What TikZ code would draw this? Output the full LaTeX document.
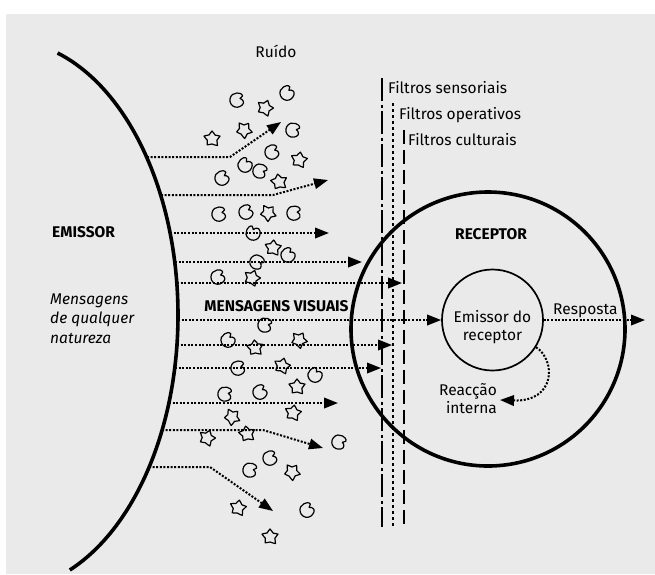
\documentclass[tikz,border=0pt]{standalone}
\usepackage{fontspec}
\setmainfont{Fira Sans}
\usetikzlibrary{arrows.meta}
\definecolor{bgc}{RGB}{234,234,234}
\begin{document}
\begin{tikzpicture}[x=1pt,y=-1pt,
  txt/.style={font=\fontsize{15.5pt}{19.5pt}\selectfont, inner sep=0pt},
  bold/.style={txt, font=\fontsize{15.5pt}{19.5pt}\selectfont\bfseries},
  ital/.style={txt, font=\fontsize{15.5pt}{19.5pt}\selectfont\itshape},
  msg/.style={line width=2pt, dash pattern=on 2pt off 1.6pt, -{Triangle[length=14pt,width=10.5pt]}},
  thickarc/.style={line width=3.6pt},
  noise/.style={line width=1.2pt, line join=round},
  cb/.pic={\draw[noise] plot[smooth cycle, tension=0.7] coordinates {(3pt,1.5pt) (5.5pt,4pt) (3.5pt,6.5pt) (0pt,7pt) (-4.5pt,5.5pt) (-7pt,1pt) (-6pt,-4pt) (-2pt,-7pt) (3pt,-6.5pt) (6.5pt,-3pt) (5pt,0.5pt)};},
  sb/.pic={\draw[noise] plot[smooth cycle, tension=0.6] coordinates {(0:8.5pt) (30:5pt) (70:8pt) (105:5pt) (140:8.5pt) (175:4.8pt) (210:7.5pt) (250:5pt) (290:8.5pt) (325:5pt)};}
]
\useasboundingbox (0,0) rectangle (655,574);
\fill[bgc] (6,14) rectangle (655,574);

% filters
\coordinate (f1a) at (382,78);  \coordinate (f1b) at (382,527);
\coordinate (f2a) at (393,103); \coordinate (f2b) at (393,527);
\coordinate (f3a) at (404,130); \coordinate (f3b) at (404,527);
\draw[line width=2.5pt, dash pattern=on 23pt off 3.5pt on 3pt off 3.5pt] (f1a) -- (f1b);
\draw[line width=2.7pt, dash pattern=on 2.7pt off 3.3pt] (f2a) -- (f2b);
\draw[line width=2.5pt, dash pattern=on 14pt off 6pt] (f3a) -- (f3b);

% emitter arc
\draw[thickarc] plot[domain=-72.3:68, samples=150, smooth] ({5+173*cos(\x)},{315+275*sin(\x)});

% receptor
\node[draw, circle, line width=3.6pt, inner sep=0pt, minimum size=274pt] (rec) at (488,329) {};
\node[draw, circle, line width=1.7pt, inner sep=0pt, minimum size=101pt] (emi) at (492.5,320) {};

% noise
\foreach \px/\py/\r in {237/100/0, 287/93/30, 293/130/-20, 272/152/10, 245/165/40, 260/171/-30,
  222/178/20, 219/214/0, 246/212/15, 294/213/-10, 253/233/60, 288/255/30, 257/262/-40, 218/277/10,
  265/325/-20, 228/340/30, 238/368/0, 315/375/40, 225/394/-15, 260/392/20, 339/442/-30, 270/458/10,
  250/470/-20, 307/510/25}
  \pic[rotate=\r] at (\px,\py) {cb};
\foreach \px/\py/\r in {265/108/0, 212/139/20, 244/130/-15, 299/160/10, 279/182/30, 268/213/-20,
  273/248/15, 252/278/0, 255/348/25, 299/340/-10, 282/366/5, 297/387/20, 232/417/-25, 293/413/10,
  207/438/0, 247/434/30, 292/472/-15, 238/508/10, 270/537/20}
  \pic[rotate=\r] at (\px,\py) {sb};

% messages
\coordinate (s1) at (147,157); \coordinate (b1) at (230,157); \coordinate (t1) at (281,122);
\coordinate (s2) at (161,195); \coordinate (b2) at (273,195); \coordinate (t2) at (328,180);
\coordinate (s3) at (170,233); \coordinate (t3) at (329,233);
\coordinate (s4) at (175,262); \coordinate (t4) at (362,262);
\coordinate (s5) at (177,283); \coordinate (t5) at (402,283);
\coordinate (s6) at (178,320);
\coordinate (s7) at (177,345); \coordinate (t7) at (392,345);
\coordinate (s8) at (175,368); \coordinate (t8) at (381,368);
\coordinate (s9) at (169,403); \coordinate (t9) at (338,403);
\coordinate (s10) at (162,430); \coordinate (b10) at (263,430); \coordinate (t10) at (323,448);
\coordinate (s11) at (149,467); \coordinate (b11) at (210,467); \coordinate (t11) at (273,511);
\draw[msg] (s1) -- (b1) -- (t1);
\draw[msg] (s2) -- (b2) -- (t2);
\draw[msg] (s3) -- (t3);
\draw[msg] (s4) -- (t4);
\draw[msg] (s5) -- (t5);
\draw[msg] (s6) -- (emi.west);
\draw[msg] (s7) -- (t7);
\draw[msg] (s8) -- (t8);
\draw[msg] (s9) -- (t9);
\draw[msg] (s10) -- (b10) -- (t10);
\draw[msg] (s11) -- (b11) -- (t11);

% response and internal reaction
\coordinate (rend) at (645,320);
\draw[msg] (emi.east) -- (rend);
\coordinate (rint) at (500,400);
\draw[msg] (emi.-32) .. controls (556,360) and (556,402) .. (rint);

% texts
\node[txt, anchor=base] (ruido) at (276,57) {Ruído};
\node[txt, anchor=base west] (fs) at (388,93) {Filtros sensoriais};
\node[txt, anchor=base west] (fo) at (399,119) {Filtros operativos};
\node[txt, anchor=base west] (fc) at (408,145) {Filtros culturais};
\node[bold, anchor=base west] (emissor) at (52,237) {EMISSOR};
\node[ital, anchor=base west] (m1) at (50,304) {Mensagens};
\node[ital, anchor=base west] (m2) at (50,323.5) {de qualquer};
\node[ital, anchor=base west] (m3) at (50,343) {natureza};
\node[bold, anchor=base] (mv) at (276.5,311) {MENSAGENS VISUAIS};
\node[bold, anchor=base] (receptor) at (491,239) {RECEPTOR};
\node[txt, anchor=base] (e1) at (492.5,322) {Emissor do};
\node[txt, anchor=base] (e2) at (492.5,340) {receptor};
\node[txt, anchor=base west] (resp) at (553,314) {Resposta};
\node[txt, anchor=base east] (ri1) at (497,395) {Reacção};
\node[txt, anchor=base east] (ri2) at (497,413) {interna};
\end{tikzpicture}
\end{document}
